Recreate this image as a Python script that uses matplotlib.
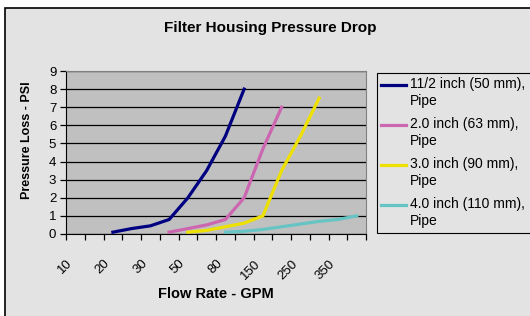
import numpy as np
import matplotlib.pyplot as plt
from matplotlib.patches import Rectangle
from matplotlib.lines import Line2D

plt.rcParams['font.family'] = ['Liberation Sans', 'DejaVu Sans']

# flow rate categories (GPM)
flow = ['10', '15', '20', '25', '30', '40', '50', '60', '80', '100',
        '150', '200', '250', '300', '350', '400']
nan = np.nan
pipe_50 = [nan, nan, 0.1, 0.3, 0.45, 0.8, 2.0, 3.5, 5.4, 8.0, nan, nan, nan, nan, nan, nan]
pipe_63 = [nan, nan, nan, nan, nan, 0.1, 0.3, 0.5, 0.8, 2.0, 4.7, 7.0, nan, nan, nan, nan]
pipe_90 = [nan, nan, nan, nan, nan, nan, 0.1, 0.2, 0.4, 0.6, 1.0, 3.5, 5.4, 7.5, nan, nan]
pipe_110 = [nan, nan, nan, nan, nan, nan, nan, nan, 0.1, 0.15, 0.25, 0.4, 0.55, 0.7, 0.8, 1.0]

labels = ['11/2 inch (50 mm),\nPipe', '2.0 inch (63 mm),\nPipe',
          '3.0 inch (90 mm),\nPipe', '4.0 inch (110 mm),\nPipe']
colors = ['#000080', '#cc66b0', '#eee000', '#66c4c4']
series = [pipe_50, pipe_63, pipe_90, pipe_110]

fig = plt.figure(figsize=(5.3, 3.16), dpi=100)
fig.patch.set_facecolor('white')
# chart area background with border
fig.patches.append(Rectangle((5 / 530, -0.1), 1.1, 1.1 - 8 / 316, transform=fig.transFigure,
                             facecolor='#e3e3e3', edgecolor='black', linewidth=1.2, zorder=-5))

ax = fig.add_axes([66 / 530, 1 - 234 / 316, 300 / 530, 163 / 316])
ax.set_facecolor('#c0c0c0')
x = np.arange(len(flow))
for s, c in zip(series, colors):
    ax.plot(x, s, color=c, linewidth=2.3, solid_joinstyle='miter', zorder=3)

ax.set_xlim(-0.5, len(flow) - 0.5)
ax.set_ylim(0, 9)
ax.set_yticks(range(10))
ax.grid(axis='y', color='black', linewidth=0.9)
ax.set_axisbelow(True)

# every other category labelled, text anchored a little left of the category centre
ax.xaxis.remove_overlapping_locs = False
ax.set_xticks(x[::2] - 0.48)
ax.set_xticklabels(flow[::2], rotation=45, ha='right', va='top', rotation_mode='anchor')
ax.set_xticks(np.arange(-0.5, len(flow)), minor=True)
ax.tick_params(axis='x', which='major', length=0, pad=17, labelsize=9.5)
ax.tick_params(axis='x', which='minor', length=4, width=0.9, direction='out')
ax.tick_params(axis='y', length=4, width=0.9, labelsize=9.5, pad=3)
for sp in ['left', 'bottom']:
    ax.spines[sp].set_color('black')
for sp in ['top', 'right']:
    ax.spines[sp].set_color('#808080')

fig.text(270 / 530, 1 - 28 / 316, 'Filter Housing Pressure Drop', ha='center', va='center',
         fontsize=11, fontweight='bold')
fig.text(216 / 530, 1 - 294 / 316, 'Flow Rate - GPM', ha='center', va='center',
         fontsize=10.5, fontweight='bold')
fig.text(27 / 530, 1 - 140 / 316, 'Pressure Loss - PSI', ha='center', va='center',
         rotation=90, fontsize=9, fontweight='bold')

# legend box
fig.patches.append(Rectangle((377 / 530, 1 - 233 / 316), 0.5, 160 / 316, transform=fig.transFigure,
                             facecolor='#e3e3e3', edgecolor='black', linewidth=0.8, zorder=1))
for i, (lab, c) in enumerate(zip(labels, colors)):
    y0 = 85 + i * 40
    fig.lines.append(Line2D([381 / 530, 406 / 530], [1 - y0 / 316] * 2, transform=fig.transFigure,
                            color=c, linewidth=2.3, zorder=2))
    fig.text(410 / 530, 1 - (y0 - 8) / 316, lab, ha='left', va='top', fontsize=10,
             linespacing=1.3, zorder=3)

fig.savefig('out.png', dpi=100)
